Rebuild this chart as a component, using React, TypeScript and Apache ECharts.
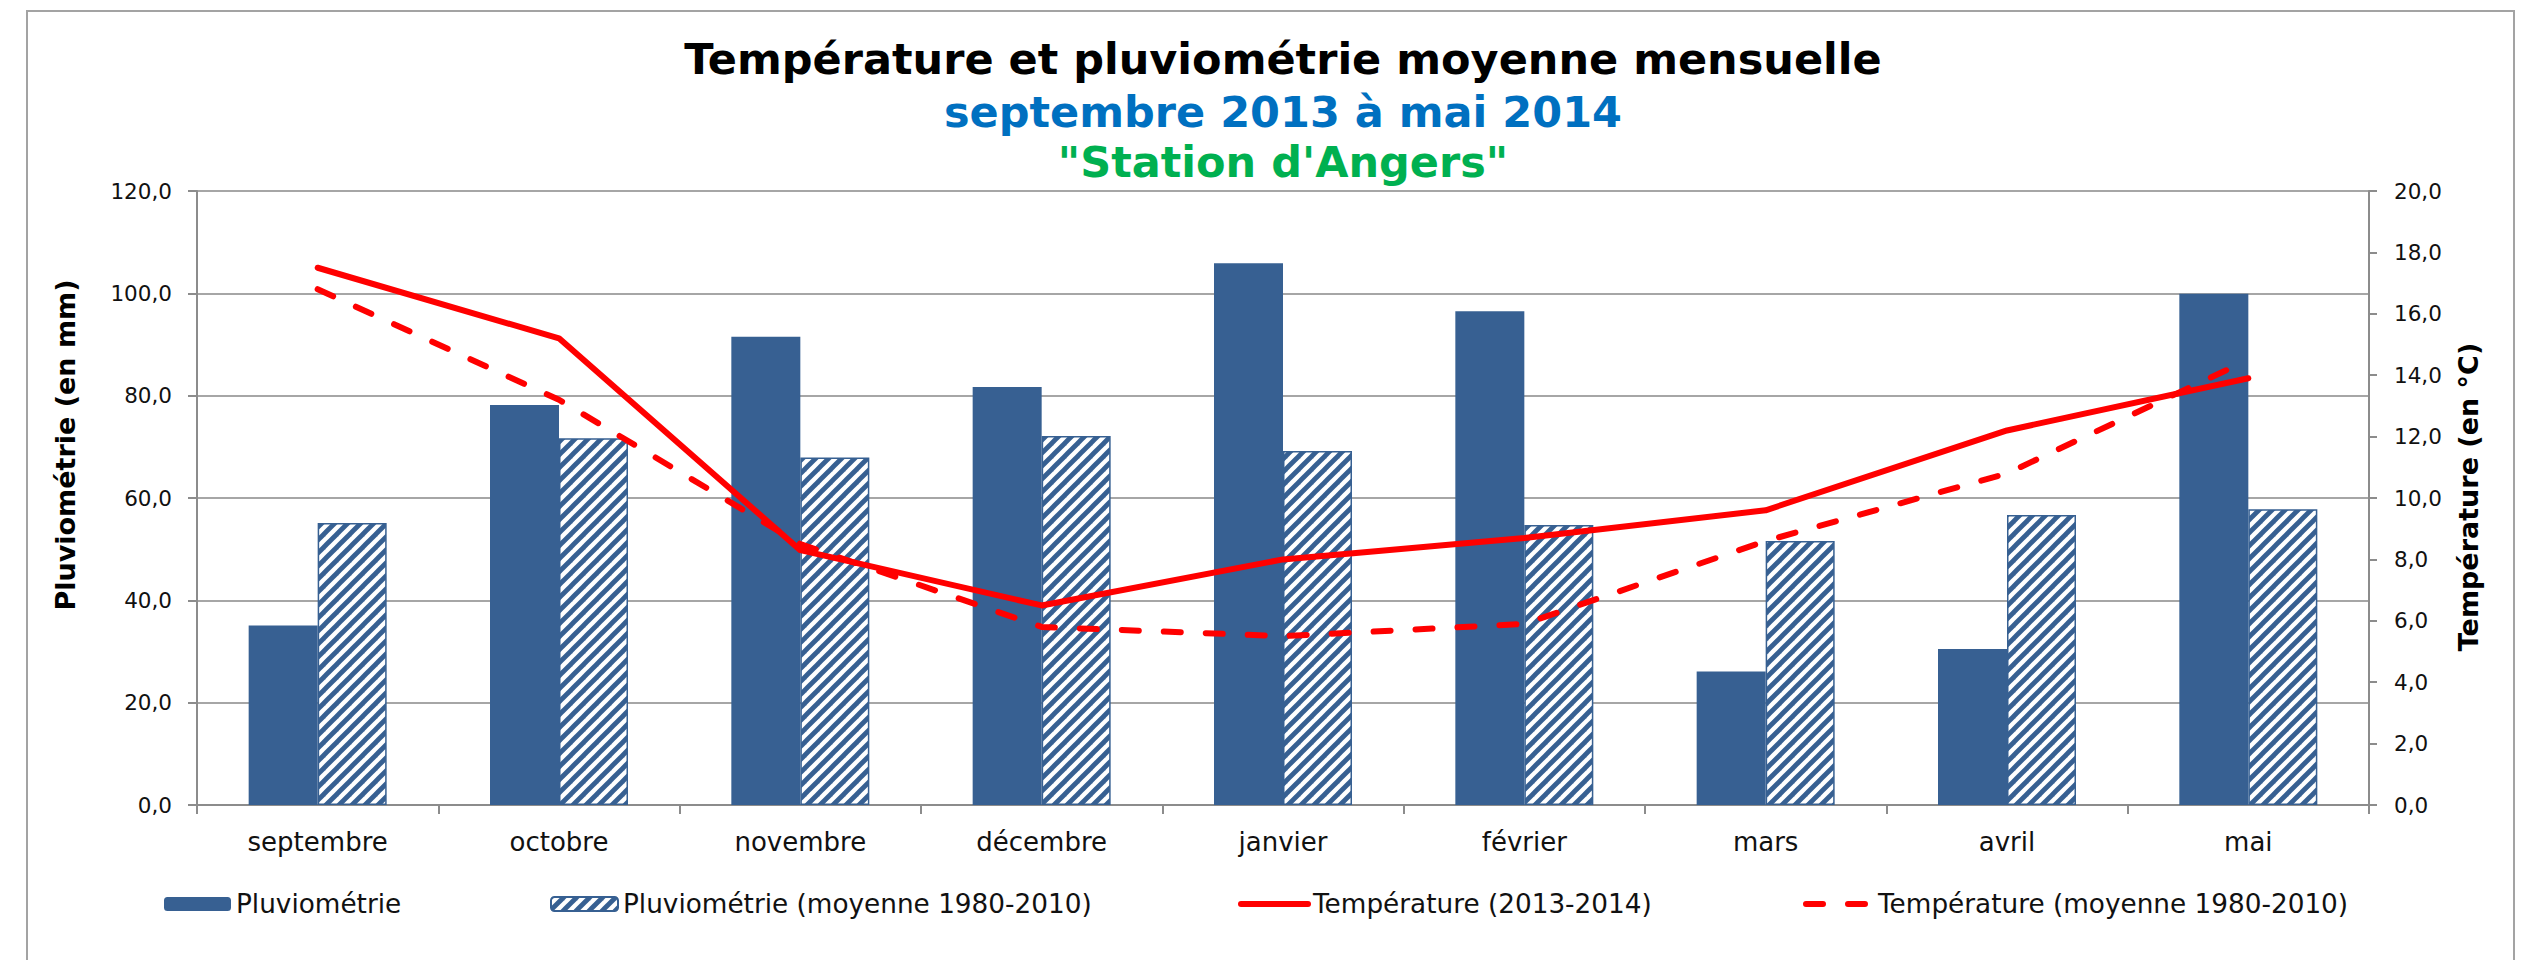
import React, { useEffect, useRef } from "react";
import * as echarts from "echarts";

const months = ["septembre", "octobre", "novembre", "décembre", "janvier", "février", "mars", "avril", "mai"];
const pluvio = [35.1, 78.2, 91.5, 81.7, 105.9, 96.5, 26.1, 30.5, 99.9];
const pluvioMoy = [55.1, 71.7, 67.9, 72.1, 69.2, 54.7, 51.6, 56.7, 57.8];
const temp = [17.5, 15.2, 8.3, 6.5, 8.0, 8.7, 9.6, 12.2, 13.9];
const tempMoy = [16.8, 13.2, 8.5, 5.8, 5.5, 5.9, 8.6, 10.8, 14.5];

const seriesNames = [
  "Pluviométrie",
  "Pluviométrie (moyenne 1980-2010)",
  "Température (2013-2014)",
  "Température (moyenne 1980-2010)",
];
const titleMain = "Température et pluviométrie moyenne mensuelle";
const titleSub = "septembre 2013 à mai 2014";
const titleStation = '"Station d\'Angers"';
const yLeftName = "Pluviométrie (en mm)";
const yRightName = "Température (en °C)";

const FONT = "'DejaVu Sans', Verdana, sans-serif";
const BLUE = "#376092";
const RED = "#FF0000";
const DASH = [17, 25];

function makeHatch(): HTMLCanvasElement {
  const s = 13;
  const c = document.createElement("canvas");
  c.width = s;
  c.height = s;
  const ctx = c.getContext("2d")!;
  ctx.fillStyle = "#ffffff";
  ctx.fillRect(0, 0, s, s);
  ctx.strokeStyle = BLUE;
  ctx.lineWidth = 4.8;
  for (const k of [-s, 0, s]) {
    ctx.beginPath();
    ctx.moveTo(k - 2, s + 2);
    ctx.lineTo(k + s + 2, -2);
    ctx.stroke();
  }
  return c;
}

const fmt = (v: number) => v.toFixed(1).replace(".", ",");

export default function App() {
  const ref = useRef<HTMLDivElement>(null);
  useEffect(() => {
    if (!ref.current) return;
    const chart = echarts.init(ref.current, null, { renderer: "svg" });
    const hatch = makeHatch();
    const legendBase = {
      top: 886,
      itemWidth: 67,
      itemHeight: 14,
      itemGap: 0,
      textStyle: { fontFamily: FONT, fontSize: 26.3, color: "#111", lineHeight: 26 },
      selectedMode: false,
    };
    const textStyleCenter = (text: string, size: number, color: string) => ({
      text,
      font: `bold ${size}px ${FONT}`,
      fill: color,
      textAlign: "center",
      align: "center",
      textVerticalAlign: "middle",
      verticalAlign: "middle",
    });
    chart.setOption({
      animation: false,
      backgroundColor: "#ffffff",
      textStyle: { fontFamily: FONT },
      graphic: [
        {
          type: "rect",
          shape: { x: 27, y: 11, width: 2487, height: 1000 },
          style: { fill: "none", stroke: "#a3a3a3", lineWidth: 2 },
          silent: true,
        },
        { type: "text", x: 1283, y: 59, style: textStyleCenter(titleMain, 43, "#000") },
        { type: "text", x: 1283, y: 112, style: textStyleCenter(titleSub, 43, "#0070C0") },
        { type: "text", x: 1283, y: 162, style: textStyleCenter(titleStation, 43, "#00B050") },
        {
          type: "text",
          x: 65,
          y: 445,
          rotation: Math.PI / 2,
          style: textStyleCenter(yLeftName, 27, "#000"),
        },
        {
          type: "text",
          x: 2468,
          y: 497,
          rotation: Math.PI / 2,
          style: textStyleCenter(yRightName, 27, "#000"),
        },
      ],
      legend: [
        { ...legendBase, left: 159, data: [seriesNames[0]] },
        { ...legendBase, left: 545, data: [seriesNames[1]] },
        {
          ...legendBase,
          left: 1233,
          data: [seriesNames[2]],
          itemStyle: { opacity: 0 },
          lineStyle: { color: RED, width: 6, type: "solid", cap: "round", opacity: 1 },
        },
        {
          ...legendBase,
          left: 1798,
          data: [seriesNames[3]],
          itemStyle: { opacity: 0 },
          lineStyle: { color: RED, width: 6, type: DASH, cap: "round", opacity: 1 },
        },
      ],
      grid: { left: 197, right: 158, top: 191, bottom: 155, containLabel: false },
      xAxis: {
        type: "category",
        data: months,
        boundaryGap: true,
        axisLine: { show: true, lineStyle: { color: "#8c8c8c", width: 2 } },
        axisTick: { show: true, length: 9, lineStyle: { color: "#8c8c8c", width: 2 } },
        axisLabel: { fontFamily: FONT, fontSize: 26, color: "#111", margin: 24 },
      },
      yAxis: [
        {
          type: "value",
          min: 0,
          max: 120,
          interval: 20,
          axisLine: { show: true, lineStyle: { color: "#8c8c8c", width: 2 } },
          axisTick: { show: true, length: 9, lineStyle: { color: "#8c8c8c", width: 2 } },
          axisLabel: { fontFamily: FONT, fontSize: 21.5, color: "#111", margin: 25, formatter: fmt },
          splitLine: { show: true, lineStyle: { color: "#a6a6a6", width: 2 } },
        },
        {
          type: "value",
          min: 0,
          max: 20,
          interval: 2,
          position: "right",
          axisLine: { show: true, lineStyle: { color: "#8c8c8c", width: 2 } },
          axisTick: { show: true, length: 8, lineStyle: { color: "#8c8c8c", width: 2 } },
          axisLabel: { fontFamily: FONT, fontSize: 21.5, color: "#111", margin: 25, formatter: fmt },
          splitLine: { show: false },
        },
      ],
      series: [
        {
          name: seriesNames[0],
          type: "bar",
          data: pluvio,
          barWidth: 69,
          barGap: "0%",
          itemStyle: { color: BLUE },
        },
        {
          name: seriesNames[1],
          type: "bar",
          data: pluvioMoy,
          barWidth: 69,
          barGap: "0%",
          itemStyle: {
            color: { image: hatch, repeat: "repeat" },
            borderColor: BLUE,
            borderWidth: 1.5,
          },
        },
        {
          name: seriesNames[2],
          type: "line",
          yAxisIndex: 1,
          data: temp,
          symbol: "none",
          itemStyle: { color: RED },
          lineStyle: { color: RED, width: 6, cap: "round", join: "round" },
          z: 5,
        },
        {
          name: seriesNames[3],
          type: "line",
          yAxisIndex: 1,
          data: tempMoy,
          symbol: "none",
          itemStyle: { color: RED },
          lineStyle: { color: RED, width: 6, type: DASH, cap: "round", join: "round" },
          z: 5,
        },
      ],
    });
    return () => chart.dispose();
  }, []);
  return (
    <div
      ref={ref}
      style={{ position: "absolute", left: 0, top: 0, width: 2527, height: 960, background: "#fff" }}
    />
  );
}
